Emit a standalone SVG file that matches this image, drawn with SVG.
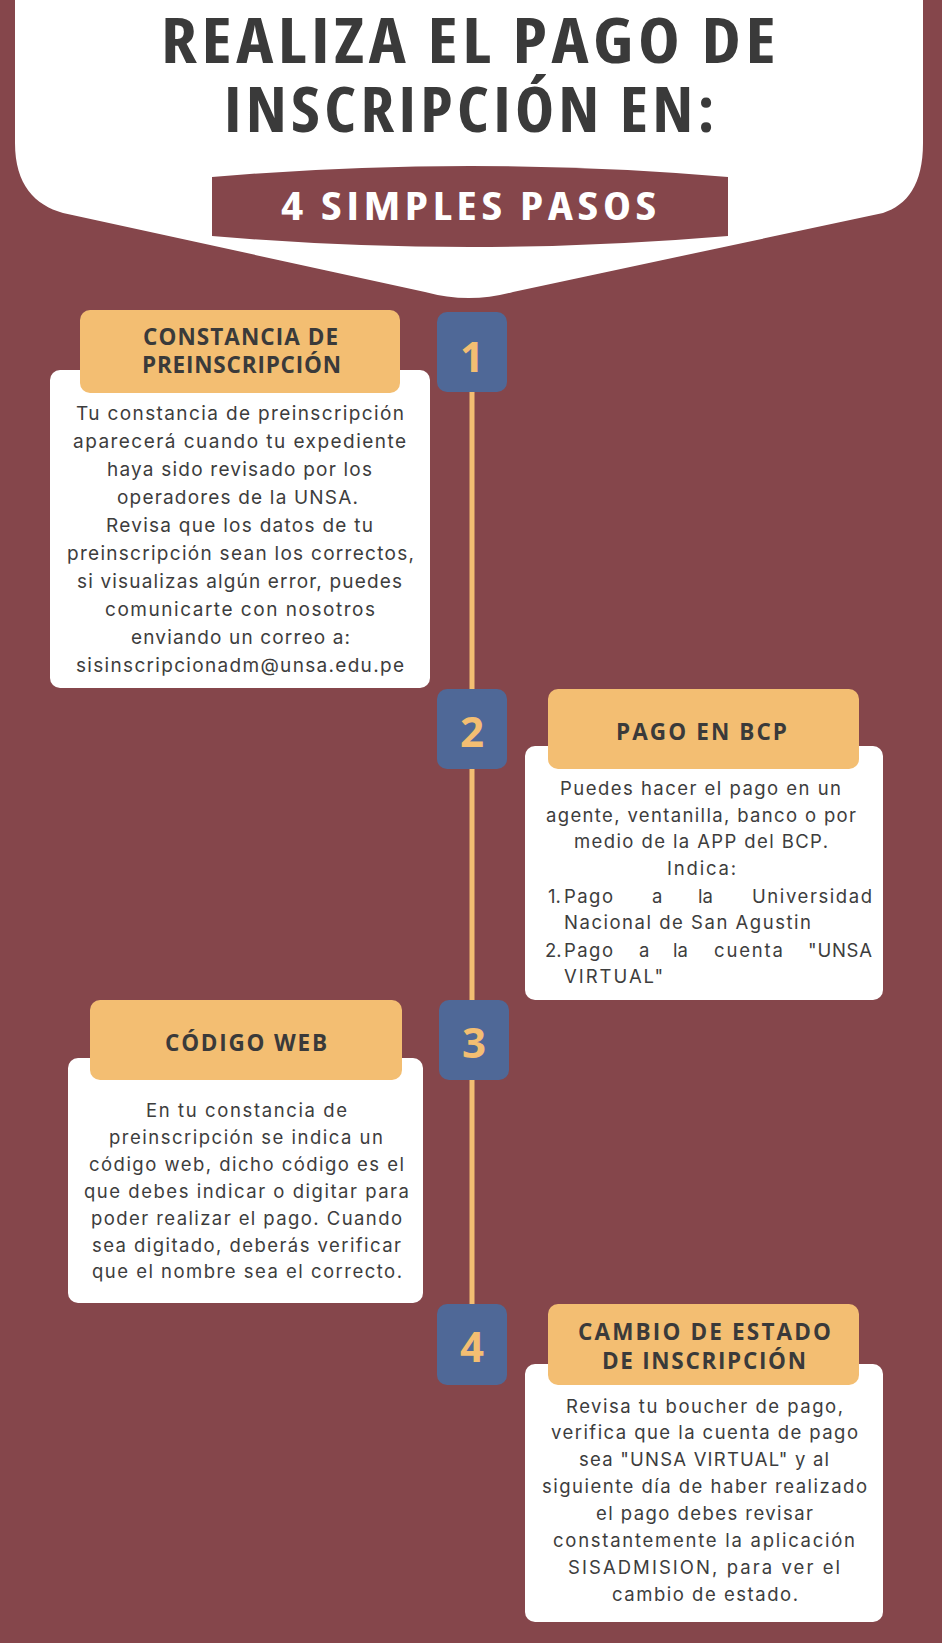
<svg xmlns="http://www.w3.org/2000/svg" width="942" height="1643" viewBox="0 0 942 1643">
<style>
.bg{fill:#85464b}
.card{fill:#ffffff}
.tag{fill:#f3be72}
.num{fill:#4f6897}
.numt{font-family:"Open Sans","Liberation Sans",sans-serif;font-weight:700;font-size:42px;fill:#f3be72;text-anchor:middle}
.ht{font-family:"Open Sans","Liberation Sans",sans-serif;font-weight:700;font-size:22.5px;fill:#3a3a3a}
.bt{font-family:Inter,"Liberation Sans",sans-serif;font-size:19px;fill:#3d3d3d}
.bt2{font-family:Inter,"Liberation Sans",sans-serif;font-size:18.5px;fill:#3d3d3d}
.title{font-family:"Open Sans","Liberation Sans",sans-serif;font-weight:700;font-stretch:condensed;font-size:62px;letter-spacing:4px;fill:#3a3a3a}
.sub{font-family:"Open Sans","Liberation Sans",sans-serif;font-weight:700;font-stretch:condensed;font-size:40px;letter-spacing:4px;fill:#ffffff}
</style>
<rect class="bg" x="0" y="0" width="942" height="1643"/>

<g id="header">
<path class="card" d="M15,0 L15,143 C15,185 35,205 63,213 L425,292 Q469,304 513,292 L883,213 C907,205 923,185 923,143 L923,0 Z"/>
<text class="title" x="161" y="63" textLength="619" lengthAdjust="spacingAndGlyphs">REALIZA EL PAGO DE</text>
<text class="title" x="224" y="132" textLength="495" lengthAdjust="spacingAndGlyphs">INSCRIPCIÓN EN:</text>
<path class="bg" d="M212,177 Q470,155 728,177 L728,236 Q470,258 212,236 Z"/>
<text class="sub" x="281" y="220" textLength="380" lengthAdjust="spacingAndGlyphs">4 SIMPLES PASOS</text>
</g>

<g id="connectors">
<rect x="469.5" y="380" width="5" height="940" fill="#f3be72"/>
</g>

<g id="step1">
<rect class="num" x="437" y="312" width="70" height="80" rx="10"/>
<text class="numt" x="472" y="372">1</text>
<rect class="card" x="50" y="370" width="380" height="318" rx="10"/>
<rect class="tag" x="80" y="310" width="320" height="83" rx="10"/>
<text class="ht" x="143" y="345" textLength="195" lengthAdjust="spacing">CONSTANCIA DE</text>
<text class="ht" x="142" y="373" textLength="199" lengthAdjust="spacing">PREINSCRIPCIÓN</text>
<text class="bt" x="76" y="420" textLength="328" lengthAdjust="spacing">Tu constancia de preinscripción</text>
<text class="bt" x="73" y="448" textLength="333" lengthAdjust="spacing">aparecerá cuando tu expediente</text>
<text class="bt" x="107" y="476" textLength="265" lengthAdjust="spacing">haya sido revisado por los</text>
<text class="bt" x="117" y="504" textLength="241" lengthAdjust="spacing">operadores de la UNSA.</text>
<text class="bt" x="106" y="532" textLength="267" lengthAdjust="spacing">Revisa que los datos de tu</text>
<text class="bt" x="67" y="560" textLength="347" lengthAdjust="spacing">preinscripción sean los correctos,</text>
<text class="bt" x="77" y="588" textLength="325" lengthAdjust="spacing">si visualizas algún error, puedes</text>
<text class="bt" x="105" y="616" textLength="270" lengthAdjust="spacing">comunicarte con nosotros</text>
<text class="bt" x="131" y="644" textLength="219" lengthAdjust="spacing">enviando un correo a:</text>
<text class="bt" x="76" y="672" textLength="328" lengthAdjust="spacing">sisinscripcionadm@unsa.edu.pe</text>
</g>

<g id="step2">
<rect class="num" x="437" y="689" width="70" height="80" rx="10"/>
<text class="numt" x="472" y="747">2</text>
<rect class="card" x="525" y="746" width="358" height="254" rx="10"/>
<rect class="tag" x="548" y="689" width="311" height="80" rx="10"/>
<text class="ht" x="616" y="740" textLength="171" lengthAdjust="spacing">PAGO EN BCP</text>
<text class="bt2" x="560" y="795" textLength="281" lengthAdjust="spacing">Puedes hacer el pago en un</text>
<text class="bt2" x="546" y="822" textLength="310" lengthAdjust="spacing">agente, ventanilla, banco o por</text>
<text class="bt2" x="574" y="848" textLength="254" lengthAdjust="spacing">medio de la APP del BCP.</text>
<text class="bt2" x="667" y="875" textLength="69" lengthAdjust="spacing">Indica:</text>
<text class="bt2" x="548" y="903">1.</text>
<text class="bt2" x="564" y="903" textLength="49" lengthAdjust="spacing">Pago</text>
<text class="bt2" x="652" y="903">a</text>
<text class="bt2" x="698" y="903">la</text>
<text class="bt2" x="752" y="903" textLength="120" lengthAdjust="spacing">Universidad</text>
<text class="bt2" x="564" y="929" textLength="247" lengthAdjust="spacing">Nacional de San Agustin</text>
<text class="bt2" x="545" y="957">2.</text>
<text class="bt2" x="564" y="957" textLength="49" lengthAdjust="spacing">Pago</text>
<text class="bt2" x="639" y="957">a</text>
<text class="bt2" x="673" y="957">la</text>
<text class="bt2" x="714" y="957" textLength="69" lengthAdjust="spacing">cuenta</text>
<text class="bt2" x="808" y="957" textLength="64" lengthAdjust="spacing">"UNSA</text>
<text class="bt2" x="564" y="983" textLength="99" lengthAdjust="spacing">VIRTUAL"</text>
</g>

<g id="step3">
<rect class="num" x="439" y="1000" width="70" height="80" rx="10"/>
<text class="numt" x="474" y="1058">3</text>
<rect class="card" x="68" y="1058" width="355" height="245" rx="10"/>
<rect class="tag" x="90" y="1000" width="312" height="80" rx="10"/>
<text class="ht" x="165" y="1051" textLength="162" lengthAdjust="spacing">CÓDIGO WEB</text>
<text class="bt2" x="146" y="1117" textLength="201" lengthAdjust="spacing">En tu constancia de</text>
<text class="bt2" x="109" y="1144" textLength="274" lengthAdjust="spacing">preinscripción se indica un</text>
<text class="bt2" x="89" y="1171" textLength="315" lengthAdjust="spacing">código web, dicho código es el</text>
<text class="bt2" x="84" y="1198" textLength="325" lengthAdjust="spacing">que debes indicar o digitar para</text>
<text class="bt2" x="91" y="1225" textLength="311" lengthAdjust="spacing">poder realizar el pago. Cuando</text>
<text class="bt2" x="92" y="1252" textLength="309" lengthAdjust="spacing">sea digitado, deberás verificar</text>
<text class="bt2" x="92" y="1278" textLength="310" lengthAdjust="spacing">que el nombre sea el correcto.</text>
</g>

<g id="step4">
<rect class="num" x="437" y="1304" width="70" height="81" rx="10"/>
<text class="numt" x="472" y="1362">4</text>
<rect class="card" x="525" y="1364" width="358" height="258" rx="10"/>
<rect class="tag" x="548" y="1304" width="311" height="81" rx="10"/>
<text class="ht" x="578" y="1340" textLength="253" lengthAdjust="spacing">CAMBIO DE ESTADO</text>
<text class="ht" x="602" y="1369" textLength="204" lengthAdjust="spacing">DE INSCRIPCIÓN</text>
<text class="bt2" x="566" y="1413" textLength="277" lengthAdjust="spacing">Revisa tu boucher de pago,</text>
<text class="bt2" x="551" y="1439" textLength="307" lengthAdjust="spacing">verifica que la cuenta de pago</text>
<text class="bt2" x="579" y="1466" textLength="250" lengthAdjust="spacing">sea "UNSA VIRTUAL" y al</text>
<text class="bt2" x="542" y="1493" textLength="325" lengthAdjust="spacing">siguiente día de haber realizado</text>
<text class="bt2" x="596" y="1520" textLength="217" lengthAdjust="spacing">el pago debes revisar</text>
<text class="bt2" x="553" y="1547" textLength="302" lengthAdjust="spacing">constantemente la aplicación</text>
<text class="bt2" x="568" y="1574" textLength="272" lengthAdjust="spacing">SISADMISION, para ver el</text>
<text class="bt2" x="612" y="1601" textLength="186" lengthAdjust="spacing">cambio de estado.</text>
</g>
</svg>
